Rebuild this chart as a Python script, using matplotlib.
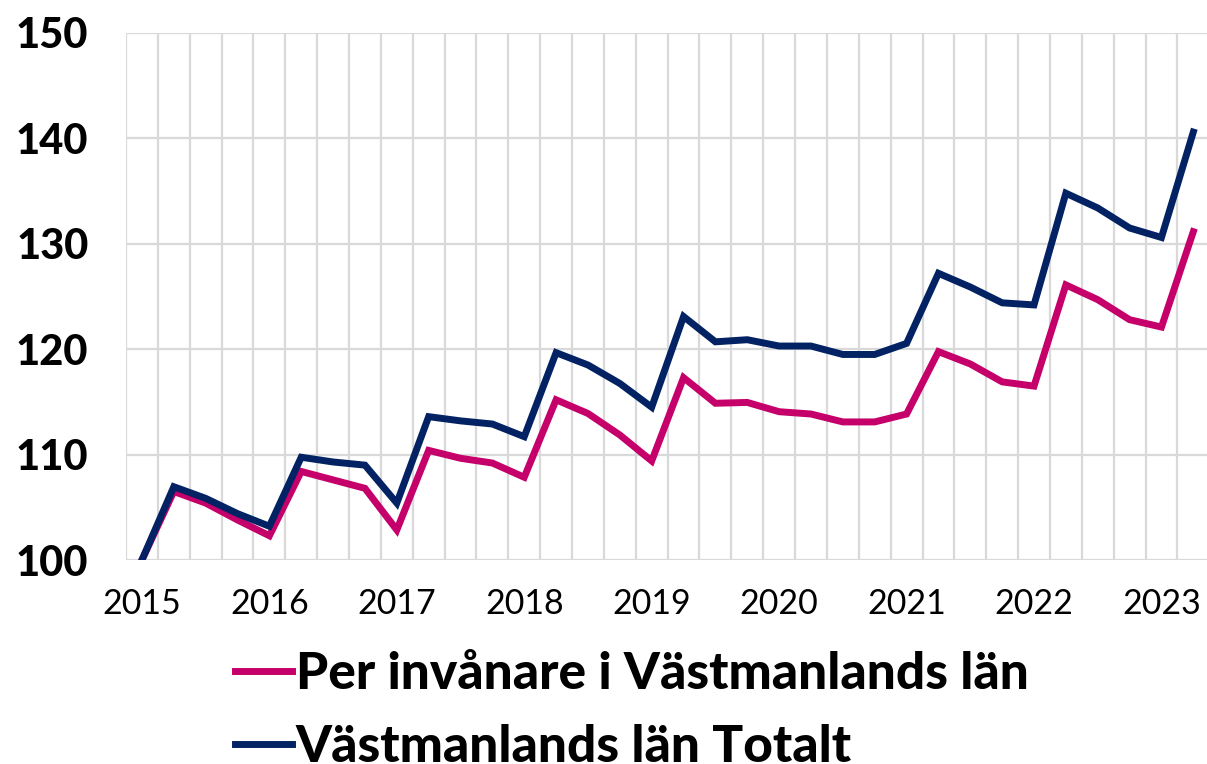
import numpy as np
import matplotlib
matplotlib.use("Agg")
import matplotlib.pyplot as plt
from matplotlib.ticker import FixedLocator

# Index, 2015 Q1 = 100, quarterly through 2023 Q2
year_labels = ["2015", "2016", "2017", "2018", "2019", "2020", "2021", "2022", "2023"]
per_capita = [100, 106.5, 105.4, 103.8, 102.3, 108.4, 107.6, 106.8, 102.85,
              110.4, 109.65, 109.2, 107.85, 115.2, 113.9, 111.86, 109.4,
              117.3, 114.87, 114.95, 114.07, 113.85, 113.1, 113.1, 113.85,
              119.77, 118.6, 116.9, 116.5, 126.1, 124.7, 122.8, 122.1, 131.15]
total = [100, 106.95, 105.85, 104.4, 103.2, 109.75, 109.3, 109.0, 105.4,
         113.6, 113.2, 112.9, 111.7, 119.67, 118.5, 116.75, 114.5,
         123.1, 120.7, 120.9, 120.3, 120.3, 119.5, 119.5, 120.55,
         127.2, 125.9, 124.4, 124.2, 134.8, 133.4, 131.5, 130.6, 140.6]
series_names = ["Per invånare i Västmanlands län", "Västmanlands län Totalt"]

PINK = "#c5006b"
NAVY = "#032263"
GRID = "#d9d9d9"

W, H = 1207, 764
fig = plt.figure(figsize=(W / 100, H / 100), dpi=100)
ax = fig.add_axes([126 / W, 1 - 560 / H, (W - 126) / W, (560 - 33) / H])

x = np.arange(len(total))
l1, = ax.plot(x, per_capita, color=PINK, lw=5, solid_joinstyle="miter", zorder=3)
l2, = ax.plot(x, total, color=NAVY, lw=5, solid_joinstyle="miter", zorder=4)

ax.set_ylim(100, 150)
ax.set_yticks(np.arange(100, 151, 10))
ax.set_xlim(-0.5, -0.5 + (W - 126) / 31.86)
ax.set_xticks(np.arange(0, len(total), 4))
ax.set_xticklabels(year_labels)
ax.xaxis.set_minor_locator(FixedLocator(np.arange(-0.5, len(total), 1)))

ax.grid(axis="y", which="major", color=GRID, lw=1.6)
ax.grid(axis="x", which="minor", color=GRID, lw=1.6)
ax.set_axisbelow(True)
for s in ax.spines.values():
    s.set_visible(False)
ax.tick_params(which="both", length=0)
ax.tick_params(axis="y", pad=27)
ax.tick_params(axis="x", pad=20)
for t in ax.get_yticklabels():
    t.set_fontfamily("Lato")
    t.set_fontweight("black")
    t.set_fontsize(30)
for t in ax.get_xticklabels():
    t.set_fontfamily("Lato")
    t.set_fontsize(24.5)

fig.legend([l1, l2], series_names, loc="center left",
           bbox_to_anchor=(235 / W, 1 - 711 / H), frameon=False,
           borderpad=0, borderaxespad=0,
           handlelength=1.1, handletextpad=0.08, labelspacing=0.5,
           prop={"family": "Lato", "weight": "black", "size": 37})

fig.savefig("out.png", dpi=100)
